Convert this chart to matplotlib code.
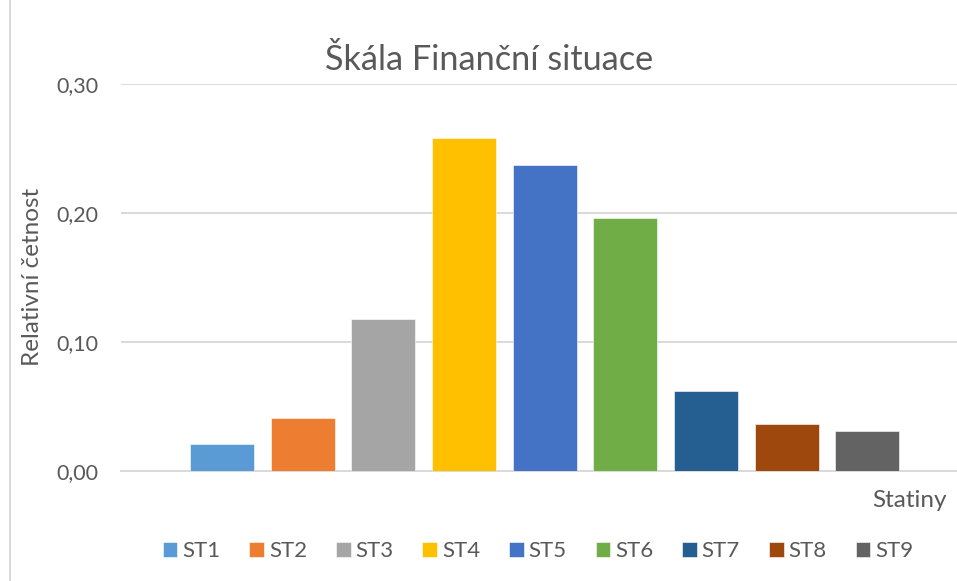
import matplotlib
matplotlib.use("Agg")
import matplotlib.pyplot as plt
from matplotlib.lines import Line2D

categories = ["ST1", "ST2", "ST3", "ST4", "ST5", "ST6", "ST7", "ST8", "ST9"]
values = [0.021, 0.041, 0.118, 0.258, 0.237, 0.196, 0.062, 0.036, 0.031]
colors = ["#5B9BD5", "#ED7D31", "#A5A5A5", "#FFC000", "#4472C4",
          "#70AD47", "#255E91", "#9E480E", "#636363"]
yticks = [0.0, 0.1, 0.2, 0.3]
ytick_labels = ["0,00", "0,10", "0,20", "0,30"]
title = "Škála Finanční situace"
ylabel = "Relativní četnost"
xlabel = "Statiny"

plt.rcParams["font.family"] = ["Lato", "DejaVu Sans"]
txt = "#595959"
grid = "#D9D9D9"

W, H = 957, 581
fig = plt.figure(figsize=(W / 100, H / 100), dpi=100)
ax = fig.add_axes([121 / W, (H - 470.7) / H, (957 - 121) / W, (470.7 - 84) / H])

x = list(range(len(categories)))
bars = ax.bar(x, values, width=0.793, color=colors, zorder=3,
              edgecolor="white", linewidth=0.4)

ax.set_xlim(-1.25, 9.11)
ax.set_ylim(0, 0.30)
ax.set_yticks(yticks)
ax.set_yticklabels(ytick_labels)
ax.set_xticks([])
ax.tick_params(axis="y", length=0, pad=16, labelsize=15.5, labelcolor=txt)
ax.grid(axis="y", color=grid, linewidth=1.4, zorder=0)
for s in ["top", "right", "left"]:
    ax.spines[s].set_visible(False)
ax.spines["bottom"].set_color(grid)
ax.spines["bottom"].set_linewidth(1.4)

fig.text(489 / W, (H - 70) / H, title, ha="center", va="baseline",
         fontsize=24.7, color=txt)
fig.text(33 / W, (H - 277) / H, ylabel, rotation=90, ha="center",
         va="center", fontsize=17.5, color=txt)
fig.text(947 / W, (H - 507) / H, xlabel, ha="right", va="baseline",
         fontsize=17.5, color=txt)

fig.legend(bars, categories, loc="center", bbox_to_anchor=(538 / W, (H - 551) / H),
           ncol=9, frameon=False, fontsize=16, labelcolor=txt,
           handlelength=0.66, handleheight=0.66, handletextpad=0.22,
           columnspacing=1.3, borderaxespad=0, borderpad=0)

fig.add_artist(Line2D([10 / W, 10 / W], [0, 1], transform=fig.transFigure,
                      color=grid, linewidth=1.4))

fig.savefig("out.png", dpi=100)
